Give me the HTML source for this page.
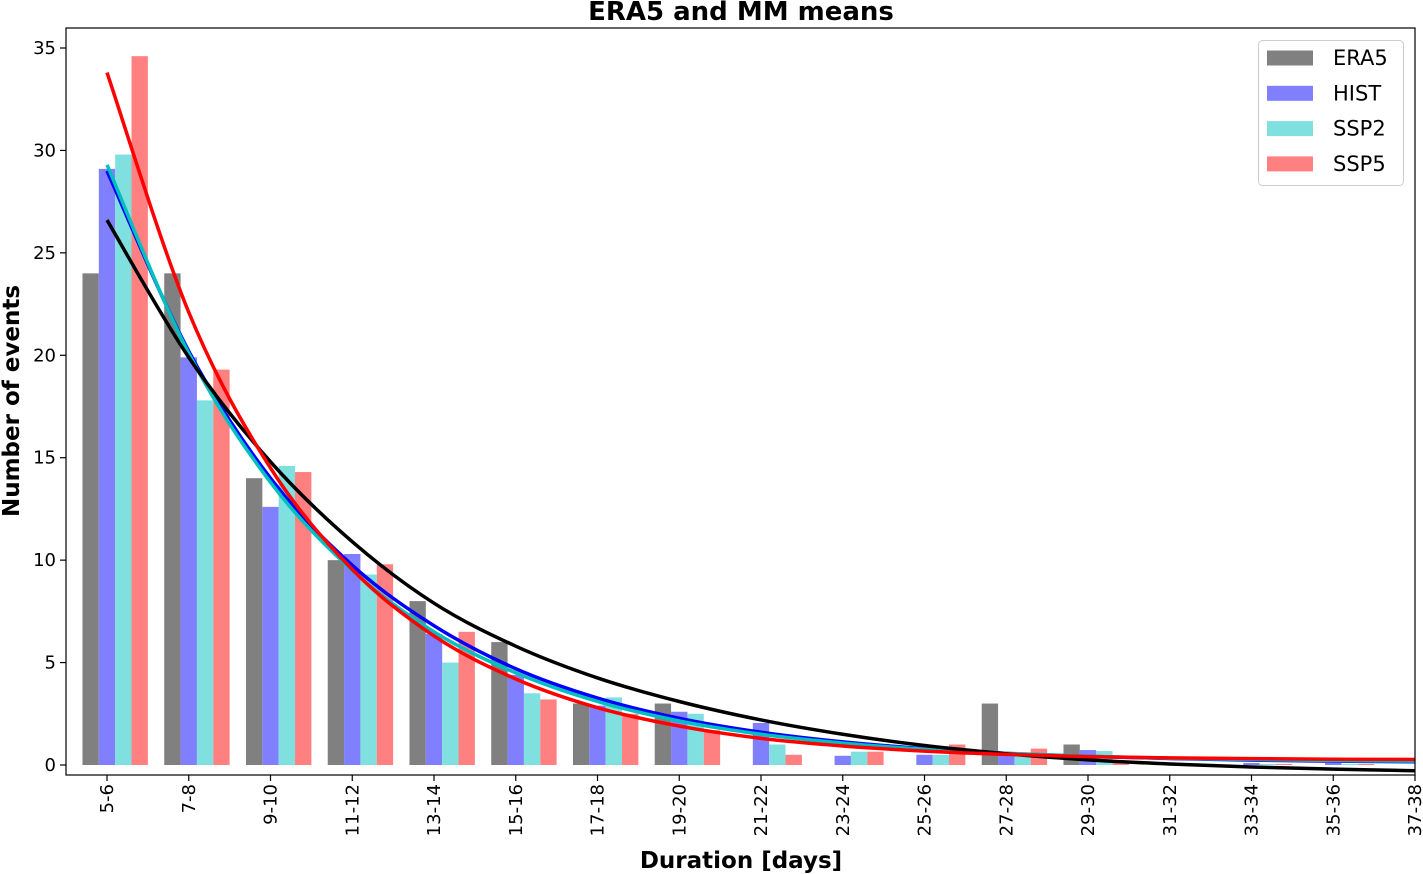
<!DOCTYPE html>
<html><head><meta charset="utf-8"><style>
html,body{margin:0;padding:0;background:#fff;}
svg{display:block;font-family:"DejaVu Sans","Liberation Sans",sans-serif;}
</style></head><body>
<svg id="chart" width="1423" height="874" viewBox="0 0 1423 874"></svg>
<script>
const categories=["5-6","7-8","9-10","11-12","13-14","15-16","17-18","19-20","21-22","23-24","25-26","27-28","29-30","31-32","33-34","35-36","37-38"];
const era5=[24,24,14,10,8,6,3,3,0,0,0,3,1,0,0,0,0];
const hist=[29.1,19.9,12.6,10.3,6.4,4.4,2.9,2.6,2.05,0.45,0.5,0.5,0.73,0.05,0.1,0.1,0];
const ssp2=[29.8,17.8,14.6,9.3,5.0,3.5,3.3,2.5,1.0,0.65,0.5,0.5,0.68,0.05,0.05,0.05,0];
const ssp5=[34.6,19.3,14.3,9.8,6.5,3.2,2.5,1.7,0.5,0.65,1.0,0.8,0.15,0.05,0.05,0.05,0];
const fitEra5=[26.6,19.9,14.8,10.9,7.9,5.8,4.25,3.1,2.2,1.5,0.95,0.55,0.25,0.05,-0.1,-0.2,-0.28];
const fitHist=[29.0,20.2,14.0,9.75,6.8,4.7,3.27,2.28,1.6,1.13,0.8,0.57,0.42,0.32,0.24,0.19,0.16];
const fitSsp2=[29.3,20.1,13.8,9.5,6.5,4.5,3.1,2.15,1.5,1.07,0.77,0.57,0.43,0.33,0.27,0.22,0.19];
const fitSsp5=[33.8,22.1,14.5,9.55,6.3,4.2,2.8,1.9,1.3,0.93,0.68,0.52,0.41,0.35,0.31,0.28,0.27];
const yTicks=[0,5,10,15,20,25,30,35];

const NS="http://www.w3.org/2000/svg";
const svg=document.getElementById('chart');
const L=66,R=1415,T=28,B=775;
const x0=107,dx=81.75,bw=16.35;
function xs(i){return x0+i*dx;}
function ys(v){return 765-v*(717/35);}
function el(tag,attrs,parent){const e=document.createElementNS(NS,tag);for(const k in attrs)e.setAttribute(k,attrs[k]);(parent||svg).appendChild(e);return e;}

const series=[["era5",era5,"#808080"],["hist",hist,"#8080ff"],["ssp2",ssp2,"#80dfdf"],["ssp5",ssp5,"#ff8080"]];
const gBars=el('g',{});


series.forEach((s,k)=>{
  s[1].forEach((v,i)=>{
    if(v<=0)return;
    const r=el('rect',{x:xs(i)+(k-1.5)*bw,y:ys(v),width:bw,height:ys(0)-ys(v),fill:s[2]},gBars);
    
    
  });
});
const fits=[["fit-hist",fitHist,"#0000ff"],["fit-ssp2",fitSsp2,"#00bfbf"],["fit-era5",fitEra5,"#000000"],["fit-ssp5",fitSsp5,"#ff0000"]];
fits.forEach(f=>{
  const p=f[1].map((v,i)=>[xs(i),ys(v)]);
  let d="M"+p[0][0]+","+p[0][1];
  for(let i=0;i<p.length-1;i++){
    const a=p[Math.max(0,i-1)],b=p[i],c=p[i+1],e=p[Math.min(p.length-1,i+2)];
    const c1=[b[0]+(c[0]-a[0])/6,b[1]+(c[1]-a[1])/6];
    const c2=[c[0]-(e[0]-b[0])/6,c[1]-(e[1]-b[1])/6];
    d+=" C"+c1[0]+","+c1[1]+" "+c2[0]+","+c2[1]+" "+c[0]+","+c[1];
  }
  const path=el('path',{d:d,fill:"none",stroke:f[2],"stroke-width":3.5});
  
  
});
const fr=el('rect',{x:L,y:T,width:R-L,height:B-T,fill:"none",stroke:"#000","stroke-width":1.2});


yTicks.forEach(v=>{
  el('line',{x1:L-6,x2:L,y1:ys(v),y2:ys(v),stroke:"#000","stroke-width":1.2});
  const t=el('text',{x:L-10,y:ys(v)+6,"text-anchor":"end","font-size":18});
  t.textContent=v;
  
  
});
categories.forEach((c,i)=>{
  el('line',{x1:xs(i),x2:xs(i),y1:B,y2:B+6,stroke:"#000","stroke-width":1.2});
  const t=el('text',{x:0,y:0,"text-anchor":"end","font-size":18,transform:`translate(${xs(i)+6},${B+9}) rotate(-90)`});
  t.textContent=c;
  
  
});
const title=el('text',{x:741,y:20,"text-anchor":"middle","font-size":26,"font-weight":"bold"});
title.textContent="ERA5 and MM means";


const xl=el('text',{x:741,y:868,"text-anchor":"middle","font-size":23,"font-weight":"bold"});
xl.textContent="Duration [days]";


const yl=el('text',{x:0,y:0,"text-anchor":"middle","font-size":23,"font-weight":"bold",transform:"translate(19,401) rotate(-90)"});
yl.textContent="Number of events";


const lg=el('g',{});


el('rect',{x:1258.5,y:40.5,width:145,height:145,rx:4,fill:"#fff",stroke:"#ccc","stroke-width":1},lg);
const names=["ERA5","HIST","SSP2","SSP5"];
series.forEach((s,k)=>{
  const cy=58+k*35.3;
  const g=el('g',{},lg);
  
  
  el('rect',{x:1267,y:cy-7.5,width:46,height:15,fill:s[2]},g);
  const t=el('text',{x:1333,y:cy+7,"font-size":21},g);
  t.textContent=names[k];
});
</script>
</body></html>
